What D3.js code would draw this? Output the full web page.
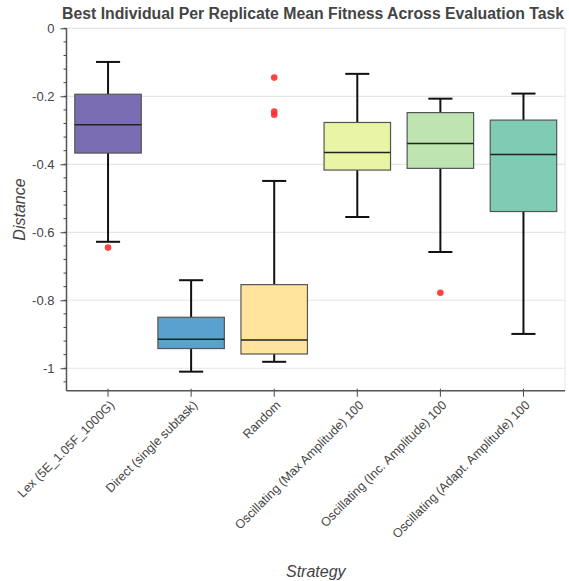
<!DOCTYPE html>
<html>
<head>
<meta charset="utf-8">
<script src="https://cdn.jsdelivr.net/npm/d3@7"></script>
<style>
  body { margin: 0; background: #fff; }
  svg { display: block; font-family: "Liberation Sans", Arial, Helvetica, sans-serif; }
</style>
</head>
<body>
<svg width="569" height="581"></svg>
<script>
// data
var categories = [
  "Lex (5E_1.05F_1000G)",
  "Direct (single subtask)",
  "Random",
  "Oscillating (Max Amplitude) 100",
  "Oscillating (Inc. Amplitude) 100",
  "Oscillating (Adapt. Amplitude) 100"
];
var upperWhisker = [-0.099, -0.741, -0.449, -0.134, -0.207, -0.192];
var q3Values     = [-0.194, -0.850, -0.754, -0.277, -0.248, -0.270];
var medians      = [-0.284, -0.915, -0.917, -0.365, -0.339, -0.371];
var q1Values     = [-0.367, -0.942, -0.958, -0.417, -0.412, -0.539];
var lowerWhisker = [-0.628, -1.010, -0.981, -0.555, -0.658, -0.899];
var outliers = [
  {cat: 0, value: -0.645},
  {cat: 2, value: -0.145},
  {cat: 2, value: -0.245},
  {cat: 2, value: -0.254},
  {cat: 4, value: -0.778}
];
var yTicks = [0, -0.2, -0.4, -0.6, -0.8, -1];
var boxColors = ["#7b6db3", "#5ba1cf", "#fee49c", "#e9f5a5", "#bee5b1", "#7fcbb4"];

var svg = d3.select("svg");
// plot area (don't call these "top" - clashes with window.top)
var pLeft = 66.5, pRight = 565, pTop = 28.3, pBottom = 390.7;

var x = d3.scaleBand().domain(categories).range([pLeft, pRight]).padding(0);
var y = d3.scaleLinear().domain([-1.066, 0]).range([pBottom, pTop]);

// plot frame + grid
svg.append("rect")
  .attr("x", pLeft).attr("y", pTop)
  .attr("width", pRight - pLeft).attr("height", pBottom - pTop)
  .attr("fill", "none").attr("stroke", "#e8e8e8");

svg.append("g").selectAll("line")
  .data(yTicks)
  .enter().append("line")
  .attr("x1", pLeft).attr("x2", pRight)
  .attr("y1", function(d) { return y(d); })
  .attr("y2", function(d) { return y(d); })
  .attr("stroke", "#e6e6e6").attr("stroke-width", 1.2);

// boxes
var rows = categories.map(function(c, i) {
  return {cat: c, lo: lowerWhisker[i], q1: q1Values[i], med: medians[i], q3: q3Values[i], hi: upperWhisker[i], color: boxColors[i]};
});
var bw = x.bandwidth() * 0.8;
var cap = x.bandwidth() * 0.29;

var g = svg.append("g").selectAll("g")
  .data(rows)
  .enter().append("g")
  .attr("transform", function(d) { return "translate(" + (x(d.cat) + x.bandwidth() / 2) + ",0)"; });

// whisker stems
g.append("line")
  .attr("x1", 0).attr("x2", 0)
  .attr("y1", function(d) { return y(d.hi); })
  .attr("y2", function(d) { return y(d.q3); })
  .attr("stroke", "#111").attr("stroke-width", 2);
g.append("line")
  .attr("x1", 0).attr("x2", 0)
  .attr("y1", function(d) { return y(d.q1); })
  .attr("y2", function(d) { return y(d.lo); })
  .attr("stroke", "#111").attr("stroke-width", 2);
// caps
g.append("line")
  .attr("x1", -cap / 2).attr("x2", cap / 2)
  .attr("y1", function(d) { return y(d.hi); })
  .attr("y2", function(d) { return y(d.hi); })
  .attr("stroke", "#111").attr("stroke-width", 2);
g.append("line")
  .attr("x1", -cap / 2).attr("x2", cap / 2)
  .attr("y1", function(d) { return y(d.lo); })
  .attr("y2", function(d) { return y(d.lo); })
  .attr("stroke", "#111").attr("stroke-width", 2);

g.append("rect")
  .attr("x", -bw / 2).attr("width", bw)
  .attr("y", function(d) { return y(d.q3); })
  .attr("height", function(d) { return y(d.q1) - y(d.q3); })
  .attr("fill", function(d) { return d.color; })
  .attr("stroke", "#555").attr("stroke-width", 1.2);

g.append("line")
  .attr("x1", -bw / 2).attr("x2", bw / 2)
  .attr("y1", function(d) { return y(d.med); })
  .attr("y2", function(d) { return y(d.med); })
  .attr("stroke", "#222").attr("stroke-width", 1.5);

// outliers
svg.append("g").selectAll("circle")
  .data(outliers)
  .enter().append("circle")
  .attr("cx", function(d) { return x(categories[d.cat]) + x.bandwidth() / 2; })
  .attr("cy", function(d) { return y(d.value); })
  .attr("r", 3.3)
  .attr("fill", "#ff2d2d").attr("fill-opacity", 0.9);

// y axis
var yAxis = svg.append("g").attr("transform", "translate(" + pLeft + ",0)");
yAxis.call(d3.axisLeft(y).tickValues(yTicks).tickSize(6).tickPadding(6)
  .tickFormat(function(d) { return d === 0 ? "0" : String(d); }));
yAxis.select(".domain").remove();
yAxis.append("line")
  .attr("x1", 0).attr("x2", 0).attr("y1", pTop).attr("y2", pBottom)
  .attr("stroke", "#555").attr("stroke-width", 1.5);
yAxis.selectAll(".tick line").attr("stroke", "#444");
yAxis.selectAll(".tick text")
  .attr("fill", "#444").attr("font-size", 13)
  .attr("font-family", "Liberation Sans, Arial, sans-serif");
// minor ticks
var minor = d3.range(0, 27).map(function(i) { return -i * 0.04; })
  .filter(function(v) { return v >= -1.066; });
yAxis.append("g").selectAll("line")
  .data(minor)
  .enter().append("line")
  .attr("x1", -3).attr("x2", 0)
  .attr("y1", function(d) { return y(d); })
  .attr("y2", function(d) { return y(d); })
  .attr("stroke", "#444");

// x axis
var xAxis = svg.append("g").attr("transform", "translate(0," + pBottom + ")");
xAxis.call(d3.axisBottom(x).tickSizeInner(6).tickSizeOuter(0).tickPadding(6));
xAxis.select(".domain").remove();
xAxis.append("line")
  .attr("x1", pLeft).attr("x2", pRight).attr("y1", 0).attr("y2", 0)
  .attr("stroke", "#555").attr("stroke-width", 1.5);
xAxis.selectAll(".tick line").attr("stroke", "#444").attr("y1", -2);
xAxis.selectAll(".tick text")
  .attr("fill", "#444").attr("font-size", 12.5)
  .attr("font-family", "Liberation Sans, Arial, sans-serif")
  .attr("text-anchor", "end")
  .attr("y", 0)
  .attr("dy", "0.35em")
  .attr("transform", "translate(4,12) rotate(-45)");

// titles
svg.append("text")
  .attr("x", 62).attr("y", 19)
  .attr("font-size", 15.8).attr("font-weight", "bold").attr("fill", "#444")
  .text("Best Individual Per Replicate Mean Fitness Across Evaluation Task");

svg.append("text")
  .attr("transform", "translate(25," + ((pTop + pBottom) / 2) + ") rotate(-90)")
  .attr("text-anchor", "middle")
  .attr("font-size", 16).attr("font-style", "italic").attr("fill", "#444")
  .text("Distance");

svg.append("text")
  .attr("x", (pLeft + pRight) / 2).attr("y", 577)
  .attr("text-anchor", "middle")
  .attr("font-size", 16).attr("font-style", "italic").attr("fill", "#444")
  .text("Strategy");
</script>
</body>
</html>
